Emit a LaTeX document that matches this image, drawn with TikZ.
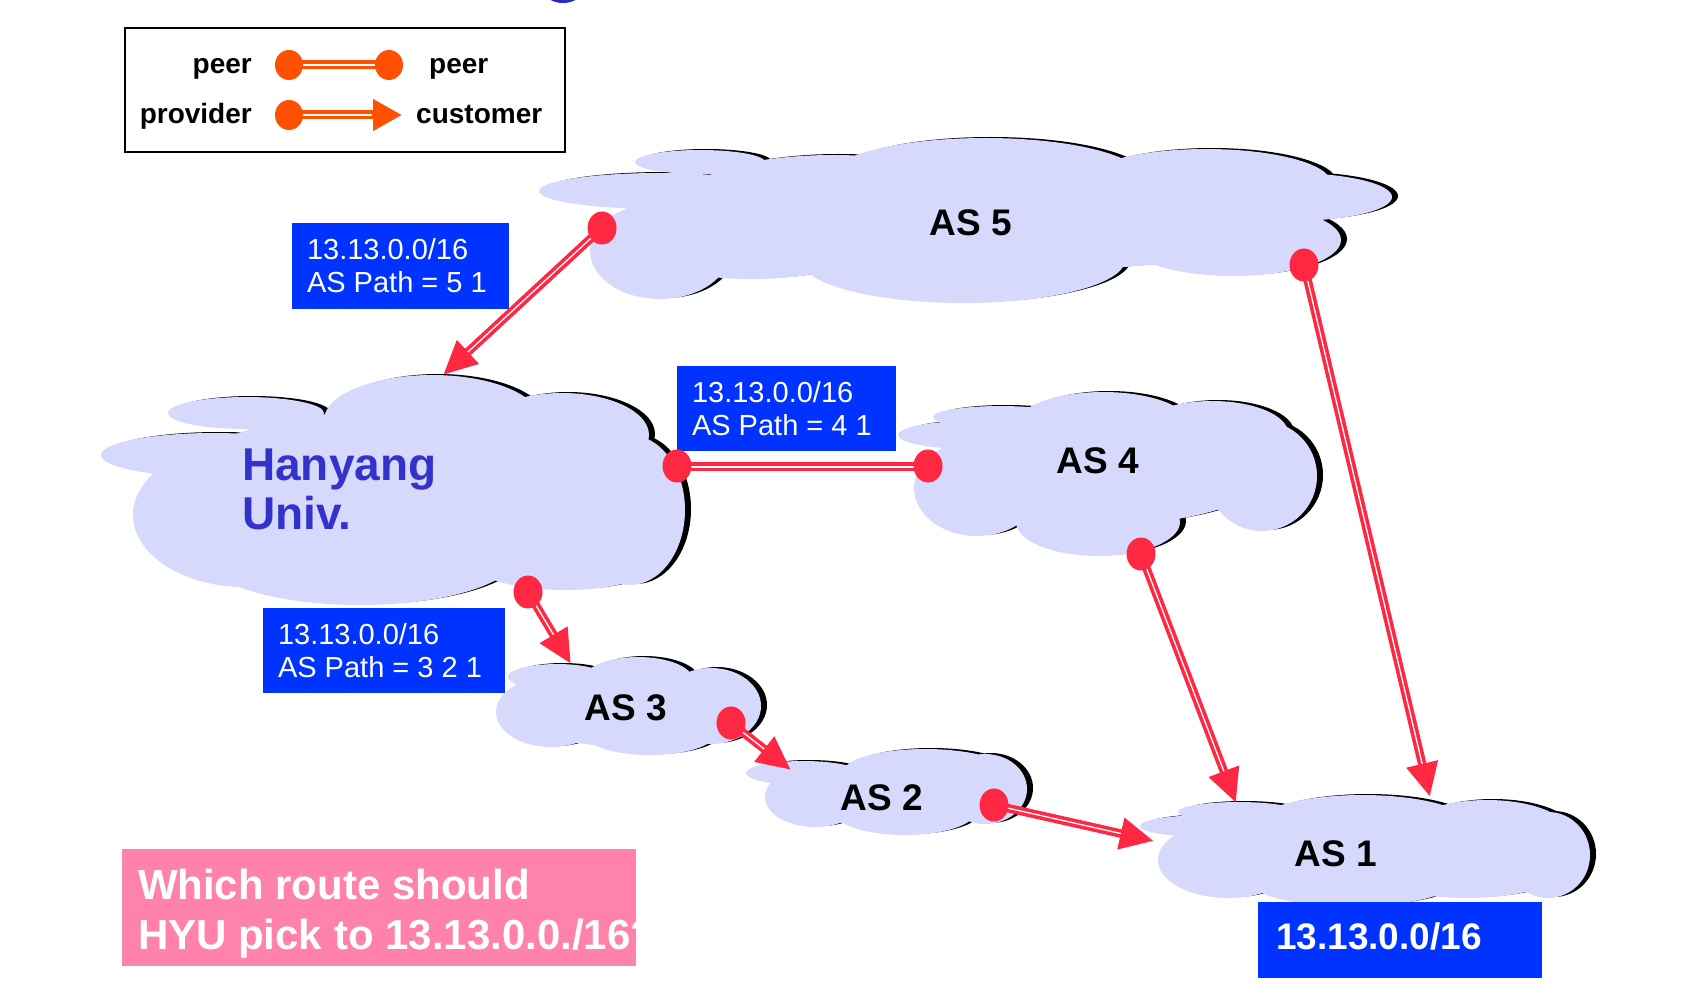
\documentclass[tikz,border=0pt]{standalone}
\usepackage{fontspec}
\setmainfont{Liberation Sans}
\usetikzlibrary{arrows.meta,shapes.geometric,calc}
\definecolor{cloudfill}{RGB}{214,217,252}
\definecolor{boxblue}{RGB}{0,51,255}
\definecolor{lnred}{RGB}{255,40,66}
\definecolor{lgorange}{RGB}{255,80,0}
\definecolor{pinkbox}{RGB}{255,130,170}
\definecolor{hyblue}{RGB}{51,51,204}
\definecolor{topblue}{RGB}{40,40,200}

\newcommand\cloudfive[1]{\fill[#1] (659,191) ellipse (120 and 18) (700,162) ellipse (65 and 12)
  (660,251) ellipse (70 and 48) (963,260) ellipse (162 and 43) (752,248) ellipse (113 and 31)
  (985,178) ellipse (157 and 40) (833,193) ellipse (140 and 38) (1206,183) ellipse (125 and 34)
  (1290,197) ellipse (102 and 24) (1233,240) ellipse (108 and 36) (975,227) ellipse (325 and 45);}
\newcommand\cloudhy[1]{\fill[#1] (213,455) ellipse (112 and 22) (246,413) ellipse (78 and 16)
  (245,515) ellipse (112 and 72) (432,420) ellipse (108 and 45) (562,435) ellipse (87 and 42)
  (630,510) ellipse (55 and 75) (360,555) ellipse (157 and 50) (565,550) ellipse (108 and 40)
  (400,490) ellipse (230 and 80);}
\newcommand\cloudfour[1]{\fill[#1] (970,435) ellipse (72 and 14) (1000,417) ellipse (67 and 11)
  (977,488) ellipse (63 and 48) (1103,425) ellipse (87 and 33) (1212,433) ellipse (76 and 32)
  (1262,476) ellipse (55 and 55) (1098,522) ellipse (82 and 34) (1100,470) ellipse (170 and 55);}
\newcommand\cloudthree[1]{\fill[#1] (551,712) ellipse (55 and 35) (557,677) ellipse (49 and 13)
  (638,680) ellipse (55 and 23) (711,706) ellipse (50 and 38) (650,734) ellipse (65 and 21)
  (630,712) ellipse (110 and 35);}
\newcommand\cloudtwo[1]{\fill[#1] (803,773) ellipse (57 and 12) (815,797) ellipse (50 and 30)
  (925,771) ellipse (81 and 22) (985,789) ellipse (42 and 35) (905,812) ellipse (70 and 23)
  (885,795) ellipse (115 and 30);}
\newcommand\cloudone[1]{\fill[#1] (1208,826) ellipse (68 and 11) (1238,812) ellipse (60 and 10)
  (1228,860) ellipse (70 and 38) (1362,825) ellipse (108 and 30) (1487,832) ellipse (81 and 32)
  (1548,855) ellipse (42 and 43) (1352,885) ellipse (97 and 21) (1466,876) ellipse (86 and 22)
  (1360,855) ellipse (190 and 35);}

\begin{document}
\begin{tikzpicture}[x=1pt,y=-1pt,
  shadowstyle/.style={black,xshift=6pt,yshift=1pt},
  cloudstyle/.style={cloudfill},
  aslabel/.style={inner sep=0pt,font=\fontsize{37}{40}\selectfont\bfseries},
  bluebox/.style={fill=boxblue,draw=none,inner sep=0pt},
  boxtext/.style={inner sep=0pt,text=white,align=left,font=\fontsize{29}{33}\selectfont},
  legtext/.style={inner sep=0pt,font=\fontsize{28}{30}\selectfont\bfseries},
  conn/.style={draw=lnred,line width=8.5pt,-{Triangle[length=34pt,width=30pt]}},
  peerln/.style={draw=lnred,line width=9pt},
  stripe/.style={draw=white,line width=1.3pt},
  dot/.style={ellipse,fill=lnred,draw=none,minimum width=29pt,minimum height=33pt,inner sep=0pt},
  ldot/.style={ellipse,fill=lgorange,draw=none,minimum width=28pt,minimum height=30pt,inner sep=0pt}]
\useasboundingbox (0,0) rectangle (1696,1000);
\fill[white] (0,0) rectangle (1696,1000);
\fill[topblue] (563,-8) ellipse (18 and 11);

% clouds
\cloudfive{shadowstyle}\cloudfive{cloudstyle}
\cloudhy{shadowstyle}\cloudhy{cloudstyle}
\cloudfour{shadowstyle}\cloudfour{cloudstyle}
\cloudthree{shadowstyle}\cloudthree{cloudstyle}
\cloudtwo{shadowstyle}\cloudtwo{cloudstyle}
\cloudone{shadowstyle}\cloudone{cloudstyle}

% legend
\node[draw=black,line width=2pt,minimum width=440pt,minimum height=124pt,inner sep=0pt] (legend) at (345,90) {};
\coordinate (la) at (289,65);
\coordinate (lb) at (389,65);
\coordinate (lc) at (289,115);
\coordinate (ld) at (402,115);
\draw[draw=lgorange,line width=9pt] (la) -- (lb);
\draw[stripe] (la) -- (lb);
\draw[draw=lgorange,line width=9pt,-{Triangle[length=29pt,width=30pt]}] (lc) -- (ld);
\draw[stripe] (lc) -- ($(ld)!30pt!(lc)$);
\node[ldot] (lda) at (la) {};
\node[ldot] (ldb) at (lb) {};
\node[ldot] (ldc) at (lc) {};
\node[legtext,anchor=base east] (lt1) at (252,74) {peer};
\node[legtext,anchor=base west] (lt2) at (429,74) {peer};
\node[legtext,anchor=base east] (lt3) at (252,124) {provider};
\node[legtext,anchor=base west] (lt4) at (416,124) {customer};

% blue boxes
\node[bluebox,minimum width=217pt,minimum height=86pt] (b1) at (400.5,266) {};
\node[boxtext,anchor=west] (b1t) at ([xshift=15pt]b1.west) {13.13.0.0/16\\AS Path = 5 1};
\node[bluebox,minimum width=219pt,minimum height=85pt] (b2) at (786.5,408.5) {};
\node[boxtext,anchor=west] (b2t) at ([xshift=15pt]b2.west) {13.13.0.0/16\\AS Path = 4 1};
\node[bluebox,minimum width=242pt,minimum height=85pt] (b3) at (384,650.5) {};
\node[boxtext,anchor=west] (b3t) at ([xshift=15pt]b3.west) {13.13.0.0/16\\AS Path = 3 2 1};
\node[bluebox,minimum width=284pt,minimum height=76pt] (b4) at (1400,940) {};
\node[boxtext,anchor=west,font=\fontsize{37}{40}\selectfont\bfseries] (b4t) at ([xshift=18pt,yshift=4pt]b4.west) {13.13.0.0/16};

% pink box
\node[fill=pinkbox,draw=none,minimum width=514pt,minimum height=117pt,inner sep=0pt] (pk) at (379,907.5) {};
\begin{scope}
\clip (pk.south west) rectangle (pk.north east);
\node[inner sep=0pt,anchor=west,align=left,text=white,font=\fontsize{42}{50}\selectfont\bfseries] (pkt) at ([xshift=16pt,yshift=-6pt]pk.west) {Which route should\\HYU pick to 13.13.0.0./16?};
\end{scope}

% connectors
\coordinate (d5a) at (602,228);
\coordinate (d5b) at (1304,265);
\coordinate (dh1) at (677,466);
\coordinate (dh2) at (528,592);
\coordinate (d4a) at (928,466);
\coordinate (d4b) at (1141,554);
\coordinate (d3) at (731,723);
\coordinate (d2) at (994,805);
\coordinate (t1) at (443,375);
\coordinate (t2) at (571,664);
\coordinate (t3) at (791,770);
\coordinate (t4) at (1154,841);
\coordinate (t5) at (1236,803);
\coordinate (t6) at (1430,797);

\draw[peerln] (dh1) -- (d4a);
\draw[stripe] ([yshift=-1pt]dh1) -- ([yshift=-1pt]d4a);
\foreach \a/\b in {d5a/t1,dh2/t2,d3/t3,d2/t4,d4b/t5,d5b/t6}{
  \draw[conn] (\a) -- (\b);
  \draw[stripe] (\a) -- ($(\b)!34pt!(\a)$);
}
\foreach \d in {d5a,d5b,dh1,dh2,d4a,d4b,d3,d2}{
  \node[dot] (n\d) at (\d) {};
}

% cloud labels
\node[aslabel] (as5) at (971,223) {AS 5};
\node[aslabel] (as4) at (1098,461) {AS 4};
\node[aslabel] (as3) at (626,708) {AS 3};
\node[aslabel] (as2) at (882,798) {AS 2};
\node[aslabel] (as1) at (1336,854) {AS 1};
\node[inner sep=0pt,anchor=west,align=left,text=hyblue,font=\fontsize{46}{49}\selectfont\bfseries] (hy) at (242,489.5) {Hanyang\\Univ.};
\end{tikzpicture}
\end{document}
